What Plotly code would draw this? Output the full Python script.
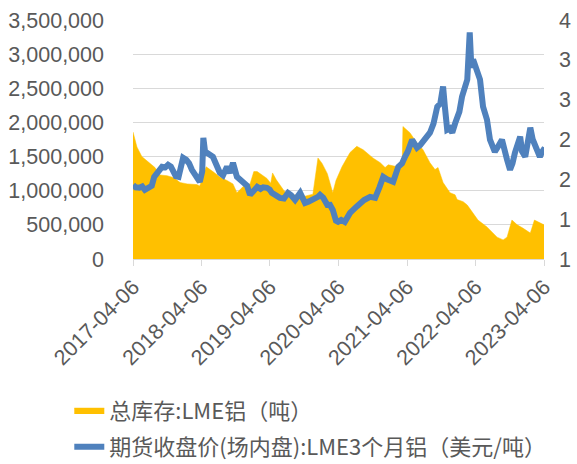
import plotly.graph_objects as go

# LME aluminium total stock (tonnes) - left axis
stock_dates = [
    "2017-04-06", "2017-04-27", "2017-05-23", "2017-07-05", "2017-08-01", "2017-08-28",
    "2017-10-05", "2017-11-10", "2017-12-13", "2018-01-20", "2018-03-12", "2018-03-28",
    "2018-04-14", "2018-05-01", "2018-06-06", "2018-07-13", "2018-08-20", "2018-09-21",
    "2018-10-12", "2018-11-14", "2018-12-21", "2019-01-10", "2019-01-28", "2019-02-24",
    "2019-03-21", "2019-04-10", "2019-04-20", "2019-05-10", "2019-06-20", "2019-07-11",
    "2019-08-18", "2019-09-14", "2019-10-10", "2019-11-21", "2019-12-18", "2020-01-09",
    "2020-02-06", "2020-03-06", "2020-03-23", "2020-04-24", "2020-06-06", "2020-07-12",
    "2020-08-15", "2020-10-06", "2020-11-14", "2020-12-10", "2020-12-27", "2021-02-13",
    "2021-03-11", "2021-03-15", "2021-04-21", "2021-05-29", "2021-06-30", "2021-08-06",
    "2021-09-02", "2021-09-18", "2021-10-15", "2021-11-21", "2021-12-18", "2021-12-29",
    "2022-01-30", "2022-02-21", "2022-03-24", "2022-04-19", "2022-06-06", "2022-07-30",
    "2022-08-31", "2022-09-21", "2022-10-17", "2022-11-14", "2022-12-16", "2023-01-23",
    "2023-02-14", "2023-04-06",
]
stock_values = [
    1860000, 1640000, 1500000, 1410000, 1340000, 1230000,
    1220000, 1190000, 1120000, 1100000, 1090000, 1070000,
    1200000, 1350000, 1280000, 1200000, 1150000, 1100000,
    970000, 1060000, 1100000, 1280000, 1280000, 1230000,
    1180000, 1110000, 1260000, 1160000, 1000000, 950000,
    940000, 930000, 920000, 950000, 1480000, 1400000,
    1250000, 970000, 1150000, 1350000, 1560000, 1650000,
    1600000, 1480000, 1410000, 1340000, 1380000, 1350000,
    1400000, 1940000, 1850000, 1700000, 1600000, 1410000,
    1310000, 1340000, 1120000, 970000, 940000, 870000,
    840000, 790000, 680000, 570000, 470000, 320000,
    280000, 320000, 570000, 500000, 450000, 380000,
    570000, 500000,
]

# LME 3-month aluminium close (USD/t) - right axis
price_dates = [
    "2017-04-06", "2017-04-20", "2017-05-10", "2017-05-25", "2017-06-08", "2017-06-20",
    "2017-07-01", "2017-07-15", "2017-07-28", "2017-08-20", "2017-09-08", "2017-09-25",
    "2017-10-10", "2017-10-25", "2017-11-08", "2017-11-20", "2017-12-05", "2017-12-20",
    "2017-12-29", "2018-01-15", "2018-01-30", "2018-02-14", "2018-03-05", "2018-03-28",
    "2018-04-10", "2018-04-16", "2018-04-25", "2018-05-05", "2018-05-20", "2018-06-06",
    "2018-06-25", "2018-07-13", "2018-07-30", "2018-08-20", "2018-09-05", "2018-09-21",
    "2018-10-12", "2018-10-25", "2018-11-14", "2018-12-05", "2018-12-21", "2019-01-10",
    "2019-01-28", "2019-02-15", "2019-03-01", "2019-03-21", "2019-04-05", "2019-04-16",
    "2019-05-05", "2019-05-29", "2019-06-20", "2019-07-11", "2019-07-28", "2019-08-18",
    "2019-09-14", "2019-10-10", "2019-10-28", "2019-11-21", "2019-12-18", "2019-12-29",
    "2020-01-15", "2020-02-06", "2020-02-20", "2020-03-06", "2020-03-23", "2020-04-03",
    "2020-04-20", "2020-05-09", "2020-06-06", "2020-07-12", "2020-07-30", "2020-08-20",
    "2020-09-21", "2020-10-18", "2020-11-10", "2020-11-30", "2020-12-20", "2021-01-22",
    "2021-02-18", "2021-03-10", "2021-03-26", "2021-04-10", "2021-05-03", "2021-05-29",
    "2021-06-15", "2021-06-30", "2021-07-20", "2021-08-06", "2021-08-25", "2021-09-14",
    "2021-09-30", "2021-10-15", "2021-10-25", "2021-11-06", "2021-11-20", "2021-12-03",
    "2021-12-18", "2022-01-10", "2022-01-24", "2022-02-10", "2022-02-21", "2022-03-06",
    "2022-03-15", "2022-03-24", "2022-04-05", "2022-04-15", "2022-04-30", "2022-05-16",
    "2022-06-06", "2022-06-22", "2022-07-10", "2022-07-18", "2022-08-01", "2022-08-25",
    "2022-09-21", "2022-10-07", "2022-10-20", "2022-11-02", "2022-11-30", "2022-12-10",
    "2022-12-27", "2023-01-10", "2023-01-23", "2023-02-05", "2023-02-19", "2023-03-15",
    "2023-03-28", "2023-04-10",
]
price_values = [
    1930, 1900, 1895, 1910, 1868, 1880,
    1893, 1920, 2031, 2100, 2157, 2150,
    2182, 2160, 2100, 2040, 2031, 2190,
    2270, 2245, 2200, 2120, 2060, 1969,
    2100, 2522, 2350, 2333, 2300, 2283,
    2180, 2082, 2050, 2157, 2080, 2207,
    2031, 2000, 1956, 1920, 1805, 1860,
    1906, 1880, 1900, 1893, 1870, 1830,
    1800, 1767, 1760, 1830, 1800, 1742,
    1830, 1704, 1720, 1742, 1780, 1805,
    1770, 1679, 1680, 1616, 1480, 1466,
    1491, 1466, 1579, 1660, 1704, 1740,
    1780, 1767, 1900, 2031, 2000, 1969,
    2157, 2200, 2283, 2350, 2497, 2396,
    2430, 2472, 2530, 2585, 2700, 2912,
    2950, 3164, 2900, 2623, 2640, 2585,
    2700, 2850, 3038, 3150, 3252, 3843,
    3400, 3503, 3400, 3340, 3252, 2912,
    2749, 2497, 2400, 2346, 2400, 2497,
    2245, 2120, 2200, 2333, 2535, 2350,
    2283, 2450, 2648, 2500, 2434, 2283,
    2350, 2396,
]

x_tick_vals = ["2017-04-06", "2018-04-06", "2019-04-06", "2020-04-06",
               "2021-04-06", "2022-04-06", "2023-04-06"]
left_ticks = [0, 500000, 1000000, 1500000, 2000000, 2500000, 3000000, 3500000]
right_ticks = [1000, 1500, 2000, 2500, 3000, 3500, 4000]
right_tick_text = ["1", "1", "2", "2", "3", "3", "4"]

stock_name = "总库存:LME铝（吨）"
price_name = "期货收盘价(场内盘):LME3个月铝（美元/吨）"

TICK_FONT = dict(family="Liberation Sans, Arial, sans-serif", size=21.5, color="#595959")

fig = go.Figure()
fig.add_trace(go.Scatter(
    x=stock_dates, y=stock_values, name=stock_name, mode="lines",
    line=dict(color="#FFC000", width=0.5), fill="tozeroy", fillcolor="#FFC000",
    legendgroup="a", yaxis="y",
))
fig.add_trace(go.Scatter(
    x=price_dates, y=price_values, name=price_name, mode="lines",
    line=dict(color="#4F81BD", width=6), legendgroup="b", yaxis="y2",
    cliponaxis=False,
))

fig.update_layout(
    width=577, height=464,
    margin=dict(l=133, r=33, t=20, b=205, autoexpand=False),
    paper_bgcolor="white", plot_bgcolor="white",
    showlegend=True,
    legend=dict(
        x=-0.155, xanchor="left", y=-0.545, yanchor="top",
        orientation="v", traceorder="grouped", tracegroupgap=5,
        font=dict(family="Noto Sans CJK SC, sans-serif", size=22, color="#595959"),
        bgcolor="rgba(0,0,0,0)",
    ),
    xaxis=dict(
        type="date", range=["2017-04-06", "2023-04-06"], automargin=False,
        tickvals=x_tick_vals, ticktext=x_tick_vals, tickangle=-45,
        tickfont=TICK_FONT, showgrid=False, showline=True, linecolor="#D9D9D9",
        linewidth=1, ticks="outside", ticklen=6, tickcolor="#D9D9D9", zeroline=False,
    ),
    yaxis=dict(
        range=[0, 3500000], tickvals=left_ticks, tickformat=",", automargin=False,
        tickfont=TICK_FONT, showgrid=True, gridcolor="#D9D9D9", gridwidth=1,
        zeroline=False, ticklabelstandoff=28,
    ),
    yaxis2=dict(
        range=[1000, 4000], tickvals=right_ticks, ticktext=right_tick_text,
        overlaying="y", side="right", showgrid=False, zeroline=False, automargin=False,
        tickfont=TICK_FONT, ticklabelstandoff=14,
    ),
)

fig.write_html("out.html", config={"displayModeBar": False},
               post_script="document.body.style.margin='0';")
